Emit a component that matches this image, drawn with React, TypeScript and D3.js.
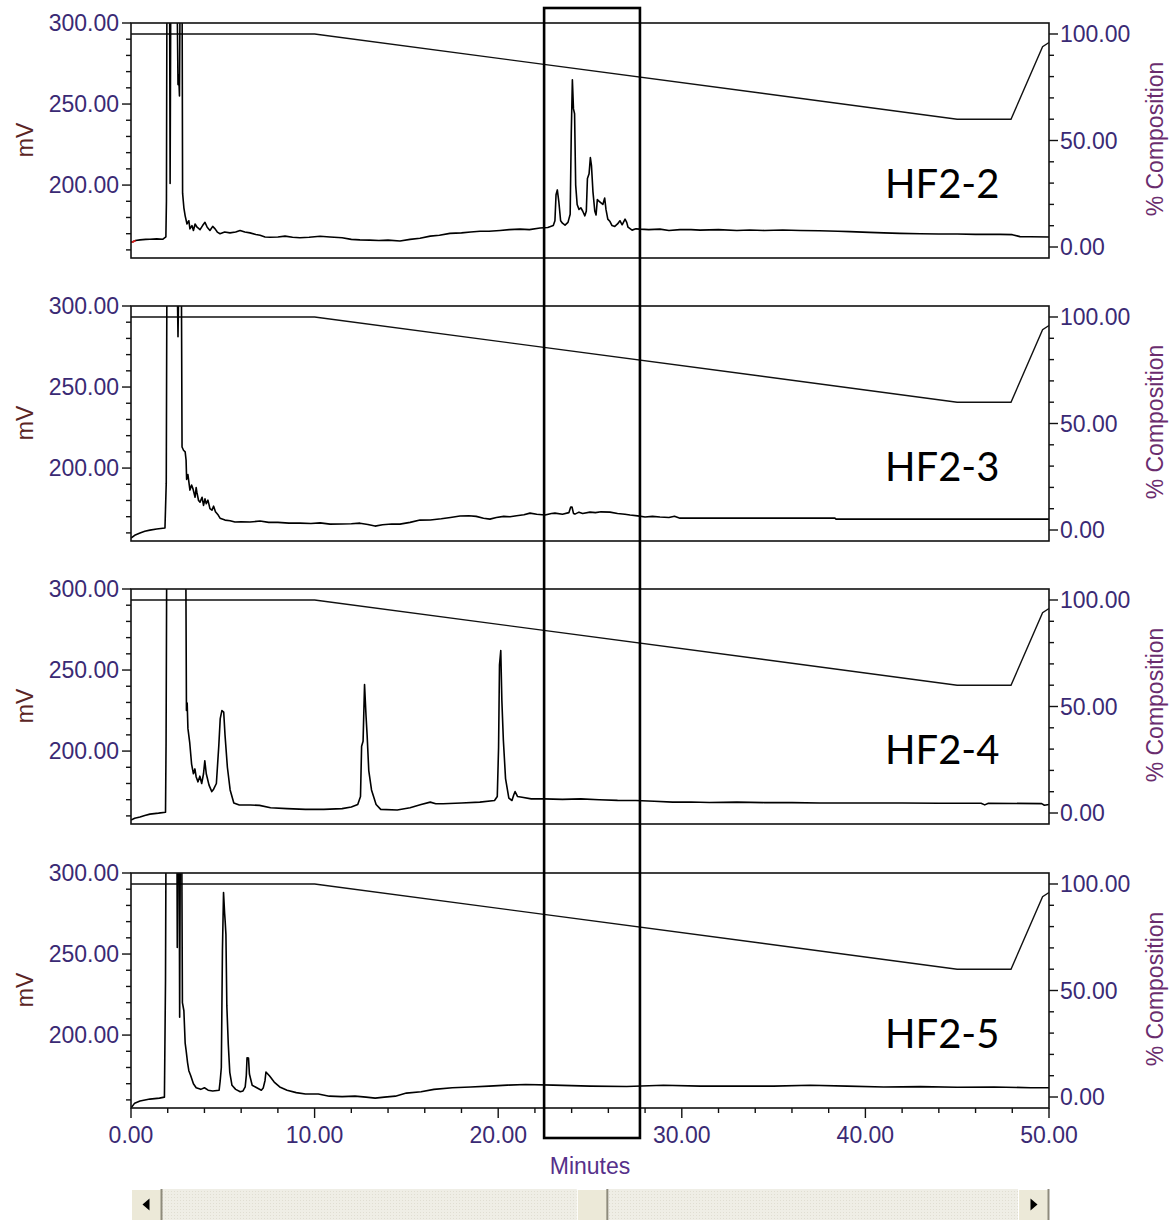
import React from 'react';
import * as d3 from 'd3';

type Pt = [number, number];

const sampleNames = ['HF2-2', 'HF2-3', 'HF2-4', 'HF2-5'];

// [minutes, mV]  (values above 300 are off-scale and get clipped)
const hf22: Pt[] = [
  [0, 164.8], [0.1, 165.0], [0.25, 165.8], [0.49, 166.2], [0.8, 166.5], [1.03, 166.6], [1.4, 166.8], [1.74, 166.6],
  [1.9, 168], [1.93, 190], [1.96, 330], [2.1, 330], [2.13, 201], [2.17, 330], [2.5, 330], [2.56, 262], [2.6, 268],
  [2.64, 255], [2.68, 330], [2.78, 330], [2.81, 195], [2.88, 186], [2.95, 181], [3.05, 176], [3.15, 178], [3.21, 173],
  [3.32, 175], [3.4, 172], [3.49, 176], [3.6, 174], [3.76, 172.5], [3.9, 175], [4.03, 177], [4.15, 174], [4.3, 172],
  [4.45, 174.5], [4.58, 173], [4.7, 171], [4.85, 170], [5.1, 171], [5.39, 170.5], [5.7, 171], [5.94, 172], [6.2, 171],
  [6.48, 170.5], [6.8, 169.5], [7.03, 169], [7.3, 168], [7.57, 167.8], [8.0, 168], [8.39, 168.5], [8.8, 167.8],
  [9.2, 167.5], [9.7, 167.8], [10.3, 168.4], [10.84, 168], [11.5, 167.5], [12.0, 166.5], [12.47, 166.2], [13.0, 166],
  [13.5, 165.8], [14.0, 166], [14.65, 165.5], [15.2, 166.5], [15.74, 167.2], [16.3, 168.5], [16.8, 169], [17.37, 170.2],
  [18.0, 170.5], [18.5, 171], [19.01, 171.5], [19.5, 171.5], [20.1, 172], [20.6, 172.5], [21.19, 172.8], [21.7, 172.5],
  [22.28, 173.5], [22.7, 173.8], [23.0, 175], [23.09, 178], [23.15, 194], [23.22, 197], [23.3, 190], [23.4, 178],
  [23.5, 176.5], [23.64, 175.3], [23.8, 177], [23.92, 182], [23.98, 232], [24.04, 265], [24.1, 247], [24.16, 244],
  [24.22, 200], [24.3, 188], [24.4, 185], [24.5, 186], [24.6, 184], [24.72, 181], [24.8, 184], [24.86, 204],
  [24.95, 207], [25.02, 217], [25.08, 212], [25.16, 196], [25.26, 184], [25.33, 181.5], [25.4, 191], [25.5, 190],
  [25.6, 189], [25.7, 188], [25.8, 192], [25.87, 185], [25.97, 179], [26.09, 177.5], [26.2, 175], [26.35, 174.5],
  [26.5, 176], [26.63, 178], [26.75, 175.5], [26.91, 179], [27.0, 177], [27.07, 174], [27.29, 172.2], [27.5, 173],
  [27.72, 172.8], [28.2, 172.5], [28.81, 172.8], [29.3, 172], [29.9, 172.5], [30.5, 172.5], [31.0, 172.2], [32.0, 172.5],
  [33.0, 172], [33.7, 172.3], [34.5, 172], [35.5, 172.3], [36.44, 172], [37.5, 171.8], [38.5, 171.5], [39.16, 171.3],
  [40.2, 170.8], [41.0, 170.5], [41.88, 170.2], [43.0, 170], [44.0, 169.8], [45.0, 169.8], [46.0, 169.6], [47.33, 169.6],
  [48.0, 169.4], [48.42, 168.2], [49.0, 168.1], [50.0, 168.0],
];

const hf23: Pt[] = [
  [0, 156.8], [0.2, 158.5], [0.49, 159.9], [0.75, 161], [1.03, 161.7], [1.4, 162.4], [1.85, 163], [1.92, 190.7],
  [1.96, 330], [2.5, 330], [2.56, 281], [2.62, 330], [2.74, 330], [2.78, 213], [2.86, 211], [2.95, 210], [3.0, 205],
  [3.03, 193], [3.1, 196], [3.21, 186.4], [3.3, 189.5], [3.38, 187], [3.49, 182], [3.55, 188], [3.59, 185], [3.68, 180],
  [3.76, 179], [3.87, 182], [3.95, 177], [4.03, 181], [4.1, 178], [4.19, 180.2], [4.3, 175], [4.41, 174], [4.5, 176.5],
  [4.6, 173], [4.75, 171], [4.85, 169.1], [5.12, 167.9], [5.4, 167.5], [5.66, 166.7], [6.0, 166.8], [6.48, 166.7],
  [7.03, 167.3], [7.5, 166.5], [8.0, 166.5], [8.6, 166], [9.2, 166], [9.8, 165.8], [10.3, 166.2], [10.84, 165.4],
  [11.5, 165.5], [12.0, 165.6], [12.47, 166], [12.9, 165.2], [13.29, 164.2], [13.7, 165], [14.2, 165.5], [14.65, 165.4],
  [15.2, 166.5], [15.74, 167.9], [16.3, 168], [16.9, 168.7], [17.4, 169.5], [17.92, 170.4], [18.4, 170.6], [18.8, 170.2],
  [19.2, 169], [19.55, 168.5], [19.9, 169.5], [20.3, 170.2], [20.64, 170], [21.0, 170.6], [21.4, 171.2], [21.73, 172.2],
  [22.1, 171.5], [22.55, 171], [22.9, 172], [23.09, 172.2], [23.5, 171.5], [23.85, 172.5], [23.95, 176], [24.02, 176],
  [24.1, 172], [24.18, 171.6], [24.4, 172.8], [24.6, 172], [25.0, 172.8], [25.3, 172.5], [25.6, 173], [26.09, 172.8],
  [26.5, 172], [26.9, 171.5], [27.18, 171], [27.6, 170.5], [28.0, 169.8], [28.4, 170.2], [28.81, 169.8], [29.3, 169.5],
  [29.6, 170.3], [29.9, 169.1], [31, 169.1], [33, 169.1], [35, 169.1], [37, 169.1], [38.34, 169.1], [38.4, 168.5],
  [40, 168.5], [43, 168.5], [46, 168.5], [50, 168.5],
];

const hf24: Pt[] = [
  [0, 157.4], [0.2, 158.5], [0.49, 159.3], [0.75, 160.3], [1.03, 161.1], [1.5, 161.7], [1.88, 162.3], [1.91, 204.9],
  [1.95, 330], [2.98, 330], [3.02, 225], [3.06, 229.6], [3.1, 214], [3.2, 205], [3.3, 192], [3.4, 186], [3.48, 189],
  [3.55, 184], [3.65, 181], [3.75, 184.5], [3.85, 180], [3.95, 186], [4.02, 194], [4.1, 186], [4.25, 179], [4.4, 175],
  [4.5, 176.5], [4.65, 180], [4.78, 203], [4.86, 220], [4.95, 225], [5.05, 224], [5.12, 210], [5.25, 190], [5.4, 176],
  [5.6, 168], [5.9, 166.7], [6.5, 166.7], [7.0, 166.5], [7.6, 165], [8.5, 164.5], [9.5, 164], [10.5, 164], [11.5, 164.5],
  [12.0, 165.5], [12.35, 167], [12.5, 172], [12.56, 203], [12.64, 206], [12.72, 241], [12.8, 222], [12.86, 210],
  [12.95, 188], [13.1, 176], [13.35, 167], [13.6, 164], [14.5, 163.6], [15.2, 165], [15.8, 167], [16.3, 168.5],
  [16.6, 167.5], [17.0, 167.5], [18.0, 168], [19.0, 168.5], [19.8, 169.5], [19.95, 172], [20.02, 202], [20.07, 253],
  [20.14, 262], [20.2, 231], [20.28, 207], [20.4, 183], [20.58, 171], [20.75, 169.5], [20.85, 173], [20.92, 175],
  [21.05, 172], [21.3, 171.5], [21.8, 170.5], [22.5, 170.5], [23.5, 170.2], [24.5, 170.5], [25.5, 170], [26.5, 169.6],
  [27.5, 169.5], [28.5, 169], [29.5, 168.5], [30.5, 168.6], [31.5, 168.3], [33, 168.5], [34.5, 168.2], [36, 168.2],
  [37.5, 168], [39, 168], [40.5, 168], [42, 168], [44, 167.8], [46.3, 167.8], [46.5, 166.8], [46.7, 167.8],
  [49.6, 167.6], [49.75, 166.6], [50, 167],
];

const hf25: Pt[] = [
  [0, 155], [0.2, 158], [0.49, 159.3], [1.03, 160.5], [1.55, 161.1], [1.82, 161.7], [1.86, 210], [1.88, 234],
  [1.91, 330], [2.5, 330], [2.52, 254], [2.56, 330], [2.62, 330], [2.65, 211], [2.69, 330], [2.76, 330], [2.8, 220],
  [2.88, 215], [2.95, 195], [3.0, 190.7], [3.08, 183], [3.15, 178], [3.25, 175], [3.4, 170], [3.55, 167.5], [3.8, 166.5],
  [4.0, 167.5], [4.2, 166], [4.45, 165.5], [4.8, 166], [4.86, 172], [4.92, 180], [4.98, 252], [5.04, 288], [5.1, 275],
  [5.13, 270], [5.17, 262], [5.22, 218], [5.3, 194], [5.38, 177], [5.5, 169], [5.7, 166.5], [5.95, 165], [6.1, 165.5],
  [6.22, 168], [6.28, 175], [6.32, 186], [6.4, 185.8], [6.45, 176], [6.6, 169], [6.85, 167.5], [7.1, 166], [7.2, 167.3],
  [7.3, 172], [7.35, 177.2], [7.45, 176], [7.55, 174.7], [7.8, 171], [8.1, 168], [8.5, 166], [9.0, 164.5], [9.5, 163.6],
  [10.2, 163.6], [10.8, 162.3], [11.5, 162.0], [12.2, 162.3], [12.8, 161.7], [13.3, 161.1], [13.8, 161.7], [14.4, 162.3],
  [15.0, 164.2], [15.8, 165], [16.5, 166.5], [17.5, 167.5], [18.5, 168], [19.5, 168.5], [20.5, 169.1], [21.5, 169.5],
  [23, 169.1], [25, 168.5], [27, 168.3], [29, 169], [31, 168.5], [33, 168.5], [35, 168.5], [37, 169], [39, 168.5],
  [41, 168], [43, 168.2], [45, 167.8], [47, 168], [49, 167.5], [50, 167.5],
];

const traces: Pt[][] = [hf22, hf23, hf24, hf25];

// gradient program [minutes, % composition]
const gradientProgram: Pt[] = [[0, 100], [10, 100], [45, 60], [47.93, 60], [49.65, 94], [50, 96]];

const mvMajorTicks = [200, 250, 300];
const mvMinorTicks = [160, 170, 180, 190, 210, 220, 230, 240, 260, 270, 280, 290];
const compMajorTicks = [0, 50, 100];
const compMinorTicks = [10, 20, 30, 40, 60, 70, 80, 90];
const minuteMajorTicks = [0, 10, 20, 30, 40, 50];
const minuteMinorTicks = [2, 4, 6, 8, 12, 14, 16, 18, 22, 24, 26, 28, 32, 34, 36, 38, 42, 44, 46, 48];
const highlightWindow = [22.5, 27.72];
const scrollThumbMinute = 25.1;

const W = 1171;
const H = 1220;
const L = 131;
const R = 1049;
const panelTops = [23, 306, 589, 873];
const PH = 235;
const tickFont = '"Liberation Sans", Arial, sans-serif';
const tickColor = '#3a2a74';

const x = d3.scaleLinear().domain([0, 50]).range([L, R]);

function Panel({ idx }: { idx: number }) {
  const T = panelTops[idx];
  const y = d3.scaleLinear().domain([155, 300]).range([T + PH, T]);
  const yc = d3.scaleLinear().domain([-5.16, 105.16]).range([T + PH, T]);
  const line = d3.line<Pt>().x(d => x(d[0])).y(d => y(d[1]));
  const gline = d3.line<Pt>().x(d => x(d[0])).y(d => yc(d[1]));
  const clipId = `clip${idx}`;
  const data = traces[idx];
  return (
    <g>
      <defs>
        <clipPath id={clipId}>
          <rect x={L} y={T} width={R - L} height={PH} />
        </clipPath>
      </defs>
      <g clipPath={`url(#${clipId})`}>
        <path d={gline(gradientProgram) || ''} fill="none" stroke="#111" strokeWidth={1.4} />
        <path d={line(data) || ''} fill="none" stroke="#000" strokeWidth={1.6} strokeLinejoin="round" />
        {idx === 0 && (
          <path d={line(data.slice(0, 3)) || ''} fill="none" stroke="#e02020" strokeWidth={1.8} />
        )}
      </g>
      <rect x={L} y={T} width={R - L} height={PH} fill="none" stroke="#111" strokeWidth={1.6} />
      {/* left axis */}
      {mvMajorTicks.map(v => (
        <g key={'lm' + v}>
          <line x1={L - 9} x2={L} y1={y(v)} y2={y(v)} stroke="#111" strokeWidth={1.4} />
          <text x={L - 12} y={y(v)} dy="0.36em" textAnchor="end" fontFamily={tickFont} fontSize={23} fill={tickColor}>
            {d3.format('.2f')(v)}
          </text>
        </g>
      ))}
      {mvMinorTicks.map(v => (
        <line key={'ln' + v} x1={L - 5} x2={L} y1={y(v)} y2={y(v)} stroke="#111" strokeWidth={1.4} />
      ))}
      <text transform={`translate(33,${T + 117}) rotate(-90)`} textAnchor="middle" fontFamily={tickFont} fontSize={23} fill="#5a2424">
        mV
      </text>
      {/* right axis */}
      {compMajorTicks.map(v => (
        <g key={'rm' + v}>
          <line x1={R} x2={R + 9} y1={yc(v)} y2={yc(v)} stroke="#111" strokeWidth={1.4} />
          <text x={R + 11} y={yc(v)} dy="0.36em" textAnchor="start" fontFamily={tickFont} fontSize={23} fill={tickColor}>
            {d3.format('.2f')(v)}
          </text>
        </g>
      ))}
      {compMinorTicks.map(v => (
        <line key={'rn' + v} x1={R} x2={R + 5} y1={yc(v)} y2={yc(v)} stroke="#111" strokeWidth={1.4} />
      ))}
      <text transform={`translate(1163,${T + 116}) rotate(-90)`} textAnchor="middle" fontFamily={tickFont} fontSize={23} fill="#6a2c6e">
        % Composition
      </text>
      <text x={885} y={T + 175} fontFamily='Lato, "Open Sans", sans-serif' fontSize={40} fill="#000">
        {sampleNames[idx]}
      </text>
    </g>
  );
}

function ScrollButton({ x0, dir }: { x0: number; dir: number }) {
  const w = 31;
  const y0 = 1189;
  const h = 31;
  const cx = x0 + w / 2;
  const cy = y0 + h / 2;
  const tri = dir < 0
    ? `M${cx + 3},${cy - 6} L${cx + 3},${cy + 6} L${cx - 4},${cy} Z`
    : `M${cx - 3},${cy - 6} L${cx - 3},${cy + 6} L${cx + 4},${cy} Z`;
  return (
    <g>
      <rect x={x0} y={y0} width={w} height={h} fill="#ECE9D8" />
      <line x1={x0 + 0.5} y1={y0} x2={x0 + 0.5} y2={y0 + h} stroke="#fff" />
      <line x1={x0} y1={y0 + 0.5} x2={x0 + w} y2={y0 + 0.5} stroke="#fff" />
      <line x1={x0 + w - 0.5} y1={y0} x2={x0 + w - 0.5} y2={y0 + h} stroke="#8e8b7c" strokeWidth={2} />
      {dir !== 0 && <path d={tri} fill="#000" />}
    </g>
  );
}

export default function App() {
  const bottomY = panelTops[3] + PH;
  return (
    <svg width={W} height={H} viewBox={`0 0 ${W} ${H}`} style={{ position: 'absolute', left: 0, top: 0, background: '#fff' }}>
      <defs>
        <pattern id="dots" width="3" height="3" patternUnits="userSpaceOnUse">
          <rect width="3" height="3" fill="#EFEEE6" />
          <rect width="1" height="1" fill="#E0DED2" />
        </pattern>
      </defs>
      <rect width={W} height={H} fill="#fff" />
      {panelTops.map((_, i) => <Panel key={i} idx={i} />)}
      {/* bottom x axis */}
      {minuteMajorTicks.map(v => (
        <g key={'xm' + v}>
          <line x1={x(v)} x2={x(v)} y1={bottomY} y2={bottomY + 10} stroke="#111" strokeWidth={1.4} />
          <text x={x(v)} y={bottomY + 27} dy="0.36em" textAnchor="middle" fontFamily={tickFont} fontSize={23} fill={tickColor}>
            {d3.format('.2f')(v)}
          </text>
        </g>
      ))}
      {minuteMinorTicks.map(v => (
        <line key={'xn' + v} x1={x(v)} x2={x(v)} y1={bottomY} y2={bottomY + 5} stroke="#111" strokeWidth={1.4} />
      ))}
      <text x={x(25)} y={1166} dy="0.36em" textAnchor="middle" fontFamily={tickFont} fontSize={23} fill="#56308a">
        Minutes
      </text>
      {/* highlight window */}
      <rect x={x(highlightWindow[0])} y={8} width={x(highlightWindow[1]) - x(highlightWindow[0])} height={1130}
        fill="none" stroke="#000" strokeWidth={2.6} />
      {/* scrollbar */}
      <rect x={L} y={1189} width={R - L} height={31} fill="url(#dots)" />
      <ScrollButton x0={L} dir={-1} />
      <ScrollButton x0={R - 31} dir={1} />
      <ScrollButton x0={x(scrollThumbMinute) - 15} dir={0} />
    </svg>
  );
}
